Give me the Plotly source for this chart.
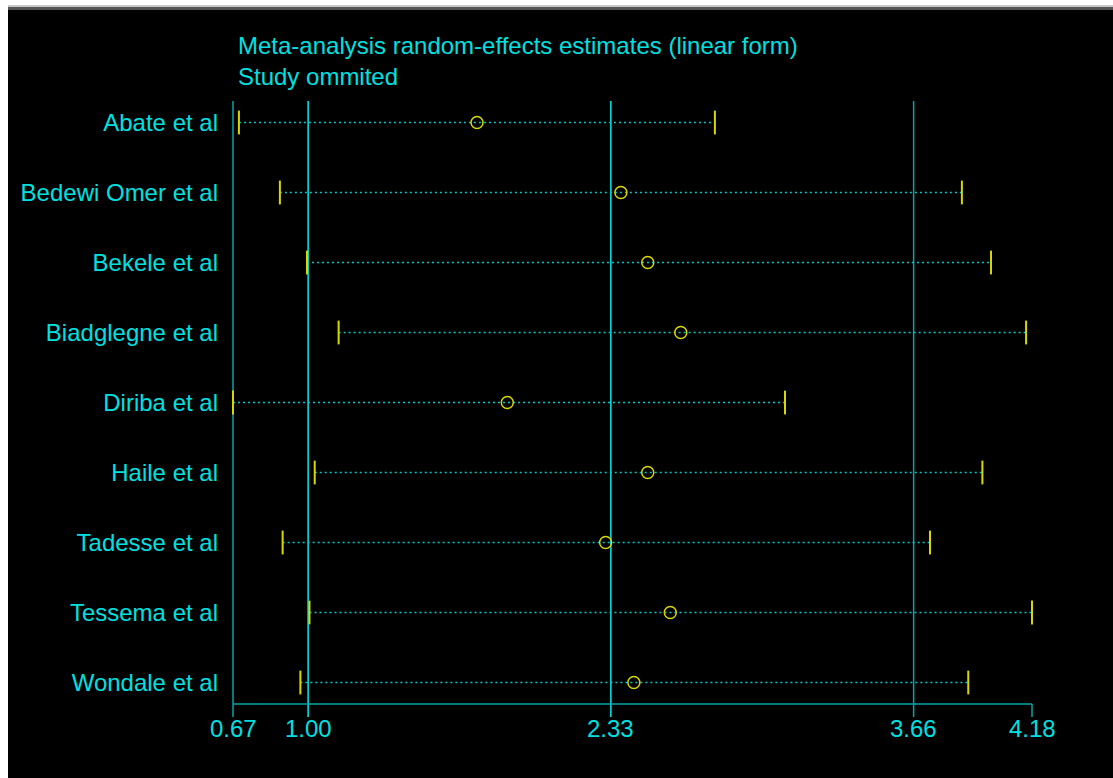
import plotly.graph_objects as go

studies = ["Abate et al", "Bedewi Omer et al", "Bekele et al", "Biadglegne et al",
           "Diriba et al", "Haile et al", "Tadesse et al", "Tessema et al", "Wondale et al"]
estimate = [1.742, 2.374, 2.492, 2.637, 1.875, 2.492, 2.307, 2.591, 2.431]
lower = [0.696, 0.876, 0.995, 1.134, 0.670, 1.029, 0.888, 1.006, 0.966]
upper = [2.787, 3.872, 4.000, 4.154, 3.095, 3.962, 3.732, 4.180, 3.900]
ref_lines = [1.00, 2.33, 3.66]
tick_vals = [0.67, 1.00, 2.33, 3.66, 4.18]
tick_text = ["0.67", "1.00", "2.33", "3.66", "4.18"]

W, H = 1113, 778
L, R, T, B = 223, 71, 98, 60
PW, PH = W - L - R, H - T - B
xmin, xmax = tick_vals[0], tick_vals[-1]
pxu = 227.64  # pixels per unit
n = len(studies)
ypos = [n - 1 - i for i in range(n)]
row = 70.0  # pixels per row

def px_x(p):
    return (p - L) / PW

def px_y(p):
    return (H - B - p) / PH

# y value of a pixel row (row 0 at 122px)
def yv(p):
    return (n - 1) - (p - 122.5) / row

CYAN = "#00E0E0"
TEAL = "#00A8A8"
BRIGHT = "#00EEEE"
YEL = "#D8D800"
FONT = "Liberation Sans, Arial, sans-serif"
FS = 24

fig = go.Figure()

# dotted CI lines
for i in range(n):
    fig.add_trace(go.Scatter(x=[lower[i], upper[i]], y=[ypos[i], ypos[i]], mode="lines",
                             line=dict(color="#00C8C8", width=1.3, dash="2px,3px"),
                             hoverinfo="skip", showlegend=False))

# CI end ticks
fig.add_trace(go.Scatter(x=lower + upper, y=ypos + ypos, mode="markers",
                         marker=dict(symbol="line-ns", size=17, line=dict(color=YEL, width=2)),
                         showlegend=False))
# estimates
fig.add_trace(go.Scatter(x=estimate, y=ypos, mode="markers",
                         marker=dict(symbol="circle-open", size=12, color=YEL, line=dict(color=YEL, width=1.5)),
                         showlegend=False))

shapes = []
# vertical reference lines (including axis line at 0.67)
for v, col in [(xmin, TEAL), (ref_lines[0], BRIGHT), (ref_lines[1], BRIGHT), (ref_lines[2], TEAL)]:
    shapes.append(dict(type="line", xref="x", yref="y", x0=v, x1=v,
                       y0=yv(717), y1=yv(101), line=dict(color=col, width=1.5), layer="below"))
# tick at max
shapes.append(dict(type="line", xref="x", yref="y", x0=xmax, x1=xmax,
                   y0=yv(717), y1=yv(704), line=dict(color=TEAL, width=1.5)))
# horizontal axis line
shapes.append(dict(type="line", xref="x", yref="y", x0=xmin, x1=xmax,
                   y0=yv(704), y1=yv(704), line=dict(color=TEAL, width=1.5)))
# window frame: white left strip and top strip
shapes.append(dict(type="rect", xref="paper", yref="paper", x0=px_x(0), x1=px_x(8),
                   y0=px_y(H), y1=px_y(0), fillcolor="white", line=dict(width=0), layer="above"))
shapes.append(dict(type="rect", xref="paper", yref="paper", x0=px_x(0), x1=px_x(W),
                   y0=px_y(5), y1=px_y(0), fillcolor="white", line=dict(width=0), layer="above"))
shapes.append(dict(type="rect", xref="paper", yref="paper", x0=px_x(8), x1=px_x(W),
                   y0=px_y(7), y1=px_y(5), fillcolor="#C8C8C8", line=dict(width=0), layer="above"))
shapes.append(dict(type="rect", xref="paper", yref="paper", x0=px_x(8), x1=px_x(W),
                   y0=px_y(10), y1=px_y(7), fillcolor="#555555", line=dict(width=0), layer="above"))

# x tick labels as annotations positioned on the x axis scale
annotations = [dict(x=v, y=px_y(728), xref="x", yref="paper", text=t, showarrow=False,
                    xanchor="center", yanchor="middle",
                    font=dict(family=FONT, color=CYAN, size=FS))
               for v, t in zip(tick_vals, tick_text)]

fig.update_layout(
    width=W, height=H,
    margin=dict(l=L, r=R, t=T, b=B, pad=0),
    paper_bgcolor="black", plot_bgcolor="black",
    font=dict(family=FONT, color=CYAN, size=FS),
    shapes=shapes,
    annotations=annotations,
    title=dict(text="Meta-analysis random-effects estimates (linear form)<br>Study ommited",
               x=238 / W, xanchor="left", xref="container",
               y=1 - 54 / H, yanchor="middle", yref="container",
               font=dict(family=FONT, color=CYAN, size=FS)),
    xaxis=dict(range=[xmin - (233 - L) / pxu, xmax + (W - R - 1032) / pxu],
               showgrid=False, zeroline=False, showline=False,
               showticklabels=False, ticks=""),
    yaxis=dict(range=[yv(H - B), yv(T)], showgrid=False, zeroline=False, showline=False,
               tickvals=ypos, ticktext=studies, ticks="", ticklabelstandoff=4,
               tickfont=dict(family=FONT, color=CYAN, size=FS)),
    showlegend=False,
)

fig.write_html("out.html")
